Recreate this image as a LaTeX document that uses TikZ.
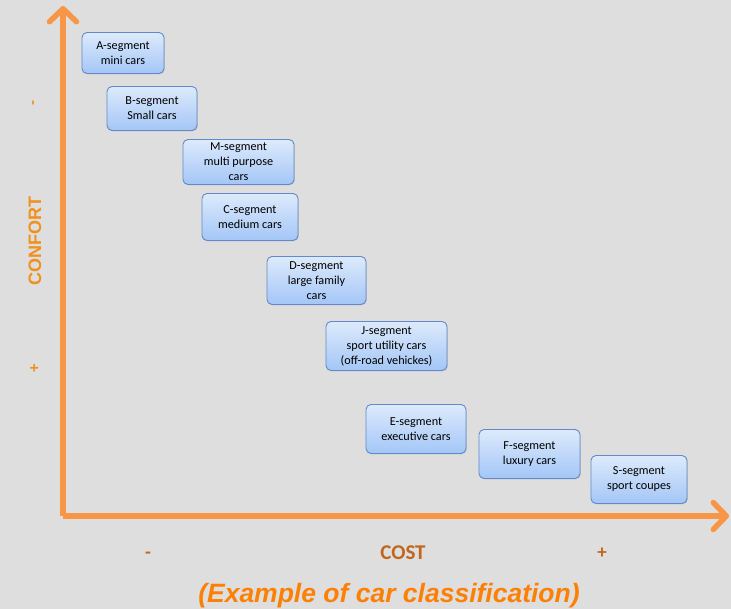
\documentclass[tikz,border=0pt]{standalone}
\usepackage{fontspec}
\setmainfont{Carlito}
\newfontfamily\titlefont{Liberation Sans}
\usepackage{tikz}
\usetikzlibrary{arrows.meta,shadows}
\definecolor{axisorange}{HTML}{F79646}
\definecolor{confortorange}{HTML}{F0901E}
\definecolor{titleorange}{HTML}{FF8000}
\definecolor{costbrown}{HTML}{C0661E}
\definecolor{boxtop}{HTML}{DDEAFC}
\definecolor{boxbottom}{HTML}{A3C6F7}
\definecolor{boxline}{HTML}{6389CA}
\definecolor{bg}{HTML}{DEDEDE}
\tikzstyle{seg} = [draw=boxline,line width=0.9pt,rounded corners=5pt,top color=boxtop,bottom color=boxbottom,align=center,font=\fontsize{12.2}{15}\selectfont,inner sep=1pt,drop shadow={opacity=0.25,shadow xshift=0.8pt,shadow yshift=-0.8pt}]
\tikzstyle{axis} = [draw=axisorange,line width=5.5pt,-{Straight Barb[length=13pt,width=27pt,round]}]

\begin{document}
\begin{tikzpicture}[x=1pt,y=-1pt]
    \useasboundingbox[fill=bg] (0,0) rectangle (731,609);

    \coordinate (o) at (63,516);
    \coordinate (ytip) at (63,6);
    \coordinate (xtip) at (729,516);
    \draw[axis] (o) -- (ytip);
    \draw[axis] (o) -- (xtip);

    \node[seg,minimum width=82pt,minimum height=41pt] (aseg) at (123,53) {A-segment\\mini cars};
    \node[seg,minimum width=90pt,minimum height=44pt] (bseg) at (152,108.5) {B-segment\\Small cars};
    \node[seg,minimum width=111pt,minimum height=45pt] (mseg) at (238.5,162) {M-segment\\multi purpose\\cars};
    \node[seg,minimum width=96pt,minimum height=47pt] (cseg) at (250,217) {C-segment\\medium cars};
    \node[seg,minimum width=99pt,minimum height=48pt] (dseg) at (316.5,280.5) {D-segment\\large family\\cars};
    \node[seg,minimum width=121pt,minimum height=49pt] (jseg) at (386.5,346) {J-segment\\sport utility cars\\(off-road vehickes)};
    \node[seg,minimum width=100pt,minimum height=49pt] (eseg) at (416,429) {E-segment\\executive cars};
    \node[seg,minimum width=101pt,minimum height=49pt] (fseg) at (529.5,454) {F-segment\\luxury cars};
    \node[seg,minimum width=96pt,minimum height=48pt] (sseg) at (639,479.5) {S-segment\\sport coupes};

    \node[rotate=90,text=confortorange,font=\titlefont\bfseries\fontsize{18}{18}\selectfont] (confort) at (35,241) {CONFORT};
    \node[rotate=90,text=confortorange,font=\bfseries\fontsize{16}{16}\selectfont] (cminus) at (35,103) {-};
    \node[rotate=90,text=confortorange,font=\bfseries\fontsize{17}{17}\selectfont] (cplus) at (35,368) {+};

    \node[text=costbrown,font=\bfseries\fontsize{21}{21}\selectfont] (cost) at (403,553) {COST};
    \node[text=costbrown,font=\bfseries\fontsize{19}{19}\selectfont] (xminus) at (148,555) {-};
    \node[text=costbrown,font=\bfseries\fontsize{19}{19}\selectfont] (xplus) at (602,553) {+};

    \node[text=titleorange,font=\titlefont\bfseries\itshape\fontsize{26.5}{26.5}\selectfont] (title) at (389,596) {(Example of car classification)};
\end{tikzpicture}
\end{document}
